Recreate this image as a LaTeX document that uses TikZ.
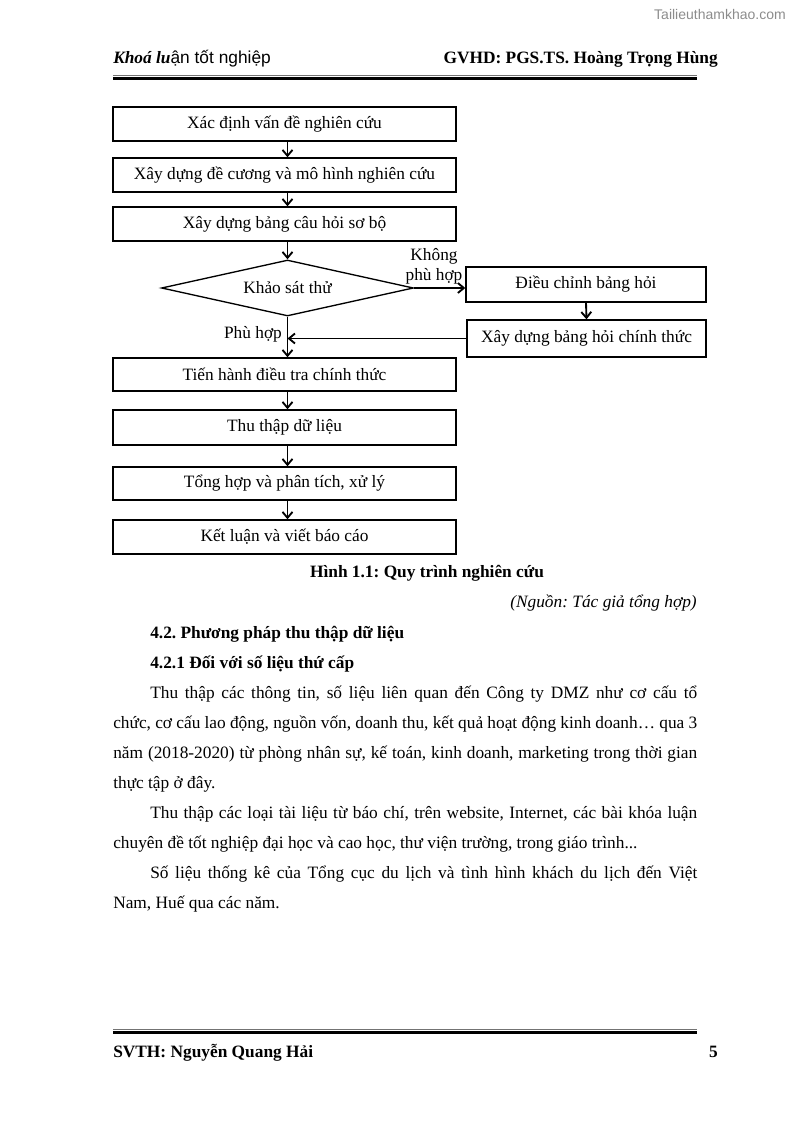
\documentclass[tikz,border=0pt]{standalone}
\usepackage{fontspec}
\setmainfont{Liberation Serif}
\newfontfamily\arialf{Liberation Sans}
\usetikzlibrary{arrows.meta,shapes.geometric}
\frenchspacing
\begin{document}
\begin{tikzpicture}[x=0.75pt,y=-0.75pt,
  txt/.style={inner sep=0pt,font=\fontsize{13pt}{15pt}\selectfont},
  box/.style={draw,line width=1pt,minimum width=257.25pt,minimum height=25.5pt,inner sep=0pt,font=\fontsize{13pt}{15pt}\selectfont},
  sbox/.style={box,minimum width=180pt},
  arr/.style={-{Straight Barb[length=4.5pt,width=7.5pt]},line width=1.4pt}]
\useasboundingbox (0,0) rectangle (794,1123);
% watermark
\node[inner sep=0pt,anchor=base east,text=black!45,font=\arialf\fontsize{10.5pt}{12pt}\selectfont] (wm) at (786,20) {Tailieuthamkhao.com};
% header
\node[txt,anchor=base west] (hl) at (113,64) {\textbf{\textit{Khoá lu}}{\arialf ận tốt nghiệp}};
\node[txt,anchor=base east] (hr) at (718,64) {\textbf{GVHD: PGS.TS. Hoàng Trọng Hùng}};
\draw[line width=0.5pt,black!55] (113,75) -- (697,75);
\draw[line width=2pt] (113,78.5) -- (697,78.5);
% flowchart
\node[box] (b1) at (284.5,124) {Xác định vấn đề nghiên cứu};
\node[box] (b2) at (284.5,175) {Xây dựng đề cương và mô hình nghiên cứu};
\node[box] (b3) at (284.5,224) {Xây dựng bảng câu hỏi sơ bộ};
\node[diamond,draw,line width=1pt,aspect=4.5,minimum width=189pt,minimum height=42pt,inner sep=0pt,font=\fontsize{13pt}{15pt}\selectfont] (d) at (287.5,288) {Khảo sát thử};
\node[sbox,minimum height=26.25pt] (dc) at (586,284.5) {Điều chỉnh bảng hỏi};
\node[sbox,minimum width=179.25pt,minimum height=27.75pt] (ct) at (586.5,338.5) {Xây dựng bảng hỏi chính thức};
\node[box,minimum height=24.75pt] (b4) at (284.5,374.5) {Tiến hành điều tra chính thức};
\node[box,minimum height=26.25pt] (b5) at (284.5,427.5) {Thu thập dữ liệu};
\node[box,minimum height=24.75pt] (b6) at (284.5,483.5) {Tổng hợp và phân tích, xử lý};
\node[box] (b7) at (284.5,537) {Kết luận và viết báo cáo};
\draw[arr] (b1.south -| d.north) -- (b2.north -| d.north);
\draw[arr] (b2.south -| d.north) -- (b3.north -| d.north);
\draw[arr] (b3.south -| d.north) -- (d.north);
\draw[arr] (d.east) -- (d.east -| dc.west);
\draw[arr] (dc.south) -- (ct.north);
\coordinate (j) at (d.south |- ct.west);
\draw[arr] (ct.west) -- (j);
\draw[arr] (d.south) -- (b4.north -| d.south);
\draw[arr] (b4.south -| d.south) -- (b5.north -| d.south);
\draw[arr] (b5.south -| d.south) -- (b6.north -| d.south);
\draw[arr] (b6.south -| d.south) -- (b7.north -| d.south);
\node[txt,align=center,font=\fontsize{13pt}{15pt}\selectfont] (l1) at (434,266) {Không\\phù hợp};
\node[txt] (l2) at (253,334) {Phù hợp};
% caption
\node[txt,anchor=base] (cap) at (427,577) {\textbf{Hình 1.1: Quy trình nghiên cứu}};
\node[txt,anchor=base east] (src) at (697,607) {\textit{(Nguồn: Tác giả tổng hợp)}};
% text
\node[txt,anchor=base west] (h1) at (150,638) {\textbf{4.2. Phương pháp thu thập dữ liệu}};
\node[txt,anchor=base west] (h2) at (150,668) {\textbf{4.2.1 Đối với số liệu thứ cấp}};
\node[txt,anchor=base west] (p1) at (150,698) {\makebox[410.25pt][s]{Thu thập các thông tin, số liệu liên quan đến Công ty DMZ như cơ cấu tổ}};
\node[txt,anchor=base west] (p2) at (113,728) {\makebox[438pt][s]{chức, cơ cấu lao động, nguồn vốn, doanh thu, kết quả hoạt động kinh doanh… qua 3}};
\node[txt,anchor=base west] (p3) at (113,758) {\makebox[438pt][s]{năm (2018-2020) từ phòng nhân sự, kế toán, kinh doanh, marketing trong thời gian}};
\node[txt,anchor=base west] (p4) at (113,788) {thực tập ở đây.};
\node[txt,anchor=base west] (p5) at (150,818) {\makebox[410.25pt][s]{Thu thập các loại tài liệu từ báo chí, trên website, Internet, các bài khóa luận}};
\node[txt,anchor=base west] (p6) at (113,848) {chuyên đề tốt nghiệp đại học và cao học, thư viện trường, trong giáo trình...};
\node[txt,anchor=base west] (p7) at (150,878) {\makebox[410.25pt][s]{Số liệu thống kê của Tổng cục du lịch và tình hình khách du lịch đến Việt}};
\node[txt,anchor=base west] (p8) at (113,908) {Nam, Huế qua các năm.};
% footer
\draw[line width=0.5pt,black!55] (113,1029) -- (697,1029);
\draw[line width=2pt] (113,1032.5) -- (697,1032.5);
\node[txt,anchor=base west] (fl) at (113,1057) {\textbf{SVTH: Nguyễn Quang Hải}};
\node[txt,anchor=base east] (fr) at (718,1057) {\textbf{5}};
\end{tikzpicture}
\end{document}
